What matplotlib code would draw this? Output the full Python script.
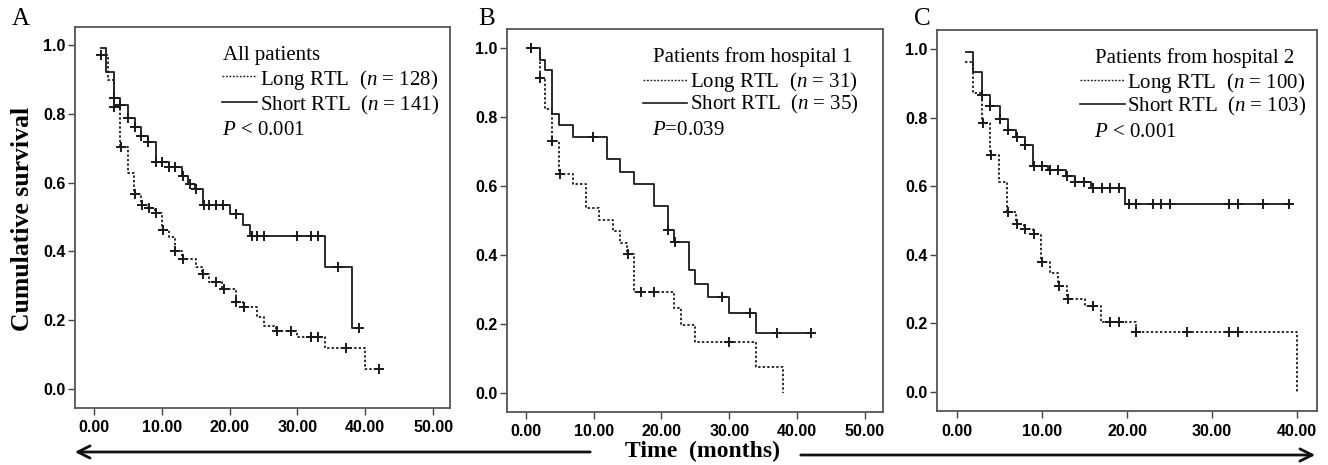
import numpy as np
import matplotlib
matplotlib.use("Agg")
import matplotlib.pyplot as plt
from matplotlib.ticker import FormatStrFormatter

plt.rcParams['mathtext.fontset'] = 'custom'
plt.rcParams['mathtext.rm'] = 'Liberation Serif'
plt.rcParams['mathtext.it'] = 'Liberation Serif:italic'

# ---- data (time in months, survival) ----
# A: all patients
a_long_t = [1.0, 2.1, 2.9, 3.9, 5.0, 5.9, 7.0, 8.0, 9.0, 10.0, 11.0, 11.9, 12.9, 15.0, 15.9,
            17.0, 18.9, 20.9, 21.9, 24.0, 25.0, 26.9, 30.0, 34.0, 40.0]
a_long_s = [0.971, 0.898, 0.819, 0.704, 0.629, 0.567, 0.535, 0.525, 0.511, 0.462, 0.443, 0.402,
            0.378, 0.355, 0.334, 0.312, 0.29, 0.254, 0.239, 0.21, 0.184, 0.169, 0.15, 0.12, 0.058]
a_long_cens = [1.0, 3.0, 4.0, 6.1, 7.1, 8.1, 9.1, 10.1, 12.0, 13.1, 16.0, 18.0, 19.1, 21.0,
               22.1, 27.0, 29.0, 32.0, 33.0, 37.1, 42.0]
a_long_end = 42.0

a_short_t = [1.0, 1.8, 3.0, 3.9, 5.0, 6.0, 7.0, 8.0, 9.1, 11.0, 12.9, 13.9, 14.9, 16.0, 20.0,
             22.0, 23.0, 34.1, 38.0]
a_short_s = [0.99, 0.92, 0.847, 0.826, 0.787, 0.76, 0.735, 0.717, 0.661, 0.644, 0.619, 0.595,
             0.58, 0.535, 0.509, 0.477, 0.445, 0.354, 0.176]
a_short_cens = [3.0, 3.9, 5.0, 6.0, 7.0, 8.0, 9.2, 10.0, 11.1, 12.0, 13.1, 14.1, 15.0, 16.2,
                17.0, 18.0, 19.0, 21.0, 23.3, 24.0, 25.0, 30.0, 32.0, 33.0, 36.0, 39.0]
a_short_end = 39.0

# B: hospital 1
b_long_t = [0.8, 2.0, 2.8, 3.8, 4.9, 6.9, 8.9, 10.8, 12.9, 13.9, 14.9, 15.9, 21.9, 22.9, 25.0,
            33.9, 37.9]
b_long_s = [1.0, 0.912, 0.823, 0.731, 0.635, 0.606, 0.535, 0.501, 0.47, 0.436, 0.403, 0.292,
            0.245, 0.197, 0.147, 0.074, 0.0]
b_long_cens = [0.8, 2.0, 3.9, 5.0, 15.0, 17.0, 18.9, 29.9]
b_long_end = 37.9

b_short_t = [0.8, 2.0, 2.8, 3.9, 4.9, 6.9, 11.9, 13.9, 16.0, 18.9, 20.9, 21.9, 24.0, 25.0,
             26.9, 29.9, 33.9]
b_short_s = [1.0, 0.965, 0.936, 0.81, 0.777, 0.743, 0.677, 0.641, 0.607, 0.542, 0.472, 0.437,
             0.357, 0.316, 0.277, 0.233, 0.173]
b_short_cens = [9.9, 21.0, 22.0, 28.9, 33.0, 37.0, 42.0]
b_short_end = 42.0

# C: hospital 2
c_long_t = [0.9, 1.9, 2.9, 3.9, 4.9, 5.9, 6.9, 7.9, 8.9, 9.9, 10.9, 11.9, 12.9, 15.0, 16.9,
            21.0, 40.0]
c_long_s = [0.961, 0.871, 0.783, 0.691, 0.613, 0.526, 0.489, 0.474, 0.462, 0.38, 0.346, 0.309,
            0.271, 0.251, 0.204, 0.174, 0.0]
c_long_cens = [3.0, 4.0, 6.0, 7.0, 8.0, 9.0, 10.0, 12.0, 13.0, 16.0, 18.0, 19.0, 21.1, 27.0,
               32.0, 33.0]
c_long_end = 40.0

c_short_t = [1.0, 1.9, 2.9, 3.9, 5.0, 6.0, 6.9, 8.0, 8.9, 10.7, 12.8, 13.9, 15.8, 19.8]
c_short_s = [0.99, 0.932, 0.866, 0.834, 0.795, 0.764, 0.743, 0.72, 0.659, 0.647, 0.63, 0.613,
             0.594, 0.548]
c_short_cens = [2.9, 3.9, 5.0, 6.0, 7.0, 8.0, 9.1, 10.0, 10.9, 11.9, 12.9, 13.9, 14.9, 16.0,
                17.0, 18.0, 19.0, 20.2, 21.0, 23.0, 24.0, 25.0, 32.0, 33.0, 36.0, 39.0]
c_short_end = 39.0

panel_letters = ['A', 'B', 'C']
titles = ['All patients', 'Patients from hospital 1', 'Patients from hospital 2']
long_labels = ['Long RTL  ($n$ = 128)', 'Long RTL  ($n$ = 31)', 'Long RTL  ($n$ = 100)']
short_labels = ['Short RTL  ($n$ = 141)', 'Short RTL  ($n$ = 35)', 'Short RTL  ($n$ = 103)']
p_labels = ['$P$ < 0.001', '$P$=0.039', '$P$ < 0.001']
x_ticks = [[0, 10, 20, 30, 40, 50], [0, 10, 20, 30, 40, 50], [0, 10, 20, 30, 40]]
y_ticks = [0.0, 0.2, 0.4, 0.6, 0.8, 1.0]

LINE = '#1a1a1a'
DOTTED = (0, (1.3, 1.2))
SERIF = 'Liberation Serif'
TICKFONT = dict(family=['Liberation Sans Narrow', 'Liberation Sans'], weight='bold', size=11.5)
LEGSIZE = 15


def km_draw(ax, t, s, cens, end, ls):
    t = np.asarray(t)
    s = np.asarray(s)
    tt = np.append(t, end)
    ss = np.append(s, s[-1])
    ax.step(tt, ss, where='post', color=LINE, lw=1.3, ls=ls)
    c = np.asarray(cens)
    idx = np.searchsorted(t, c, side='right') - 1
    idx = np.clip(idx, 0, len(s) - 1)
    ax.plot(c, s[idx], ls='none', marker='+', ms=7, mew=1.4, color=LINE)


fig = plt.figure(figsize=(13.28, 4.65), dpi=100)

axes_pos = [[0.0565, 0.1226, 0.2824, 0.8194],
            [0.3818, 0.1140, 0.2831, 0.8237],
            [0.7056, 0.1161, 0.2861, 0.8194]]
xlims = [(-2.8, 52.5), (-2.8, 52.7), (-2.35, 42.35)]
ylims = [(-0.055, 1.052), (-0.055, 1.055), (-0.055, 1.055)]

curves = [
    (a_long_t, a_long_s, a_long_cens, a_long_end, a_short_t, a_short_s, a_short_cens, a_short_end),
    (b_long_t, b_long_s, b_long_cens, b_long_end, b_short_t, b_short_s, b_short_cens, b_short_end),
    (c_long_t, c_long_s, c_long_cens, c_long_end, c_short_t, c_short_s, c_short_cens, c_short_end),
]

# legend text placement in axes fractions: (title_x, line_x0, line_x1, text_x)
leg_x = [(0.395, 0.392, 0.485, 0.493),
         (0.389, 0.362, 0.479, 0.488),
         (0.416, 0.376, 0.495, 0.501)]
leg_y = [(0.913, 0.871, 0.848, 0.804, 0.782, 0.717),
         (0.915, 0.867, 0.848, 0.808, 0.789, 0.723),
         (0.914, 0.869, 0.847, 0.806, 0.785, 0.720)]

for i in range(3):
    ax = fig.add_axes(axes_pos[i])
    lt, ls_, lc, le, st, ss_, sc, se = curves[i]
    km_draw(ax, lt, ls_, lc, le, DOTTED)
    km_draw(ax, st, ss_, sc, se, '-')

    ax.set_xlim(*xlims[i])
    ax.set_ylim(*ylims[i])
    ax.set_xticks(x_ticks[i])
    ax.set_yticks(y_ticks)
    ax.xaxis.set_major_formatter(FormatStrFormatter('%.2f'))
    ax.yaxis.set_major_formatter(FormatStrFormatter('%.1f'))
    for lab in ax.get_xticklabels() + ax.get_yticklabels():
        lab.set_fontproperties(matplotlib.font_manager.FontProperties(**TICKFONT))
    ax.tick_params(direction='out', length=5, width=1.0, color='#444444', pad=2)
    ax.tick_params(axis='x', pad=4)
    for sp in ax.spines.values():
        sp.set_color('#555555')
        sp.set_linewidth(1.3)

    tx, lx0, lx1, txt_x = leg_x[i]
    y_title, y_l1, y_t1, y_l2, y_t2, y_p = leg_y[i]
    ax.text(tx, y_title, titles[i], transform=ax.transAxes, family=SERIF, fontsize=LEGSIZE,
            va='baseline', ha='left')
    ax.plot([lx0, lx1], [y_l1, y_l1], transform=ax.transAxes, color=LINE, lw=1.0, ls=DOTTED)
    ax.text(txt_x, y_t1, long_labels[i], transform=ax.transAxes, family=SERIF, fontsize=LEGSIZE,
            va='baseline', ha='left')
    ax.plot([lx0, lx1], [y_l2, y_l2], transform=ax.transAxes, color=LINE, lw=1.2)
    ax.text(txt_x, y_t2, short_labels[i], transform=ax.transAxes, family=SERIF, fontsize=LEGSIZE,
            va='baseline', ha='left')
    ax.text(tx - 0.003, y_p, p_labels[i], transform=ax.transAxes, family=SERIF, fontsize=LEGSIZE,
            va='baseline', ha='left')

# panel letters
for x, letter in zip([0.009, 0.360, 0.688], panel_letters):
    fig.text(x, 0.946, letter, family=SERIF, fontsize=18, va='baseline', ha='left')

# shared axis labels
fig.text(0.0173, 0.529, 'Cumulative survival', family=SERIF, weight='bold', fontsize=18.5,
         rotation=90, va='center', ha='center')
fig.text(0.529, 0.030, 'Time  (months)', family=SERIF, weight='bold', fontsize=17,
         va='center', ha='center')

# arrows along the bottom
fig.add_artist(matplotlib.patches.FancyArrowPatch((593 / 1328, 0.028), (72 / 1328, 0.028),
               transform=fig.transFigure, arrowstyle='->', mutation_scale=22, lw=2.0,
               color='#111111'))
fig.add_artist(matplotlib.patches.FancyArrowPatch((798 / 1328, 0.0215), (1318 / 1328, 0.0215),
               transform=fig.transFigure, arrowstyle='->', mutation_scale=22, lw=2.0,
               color='#111111'))

plt.savefig('out.png', dpi=100)
